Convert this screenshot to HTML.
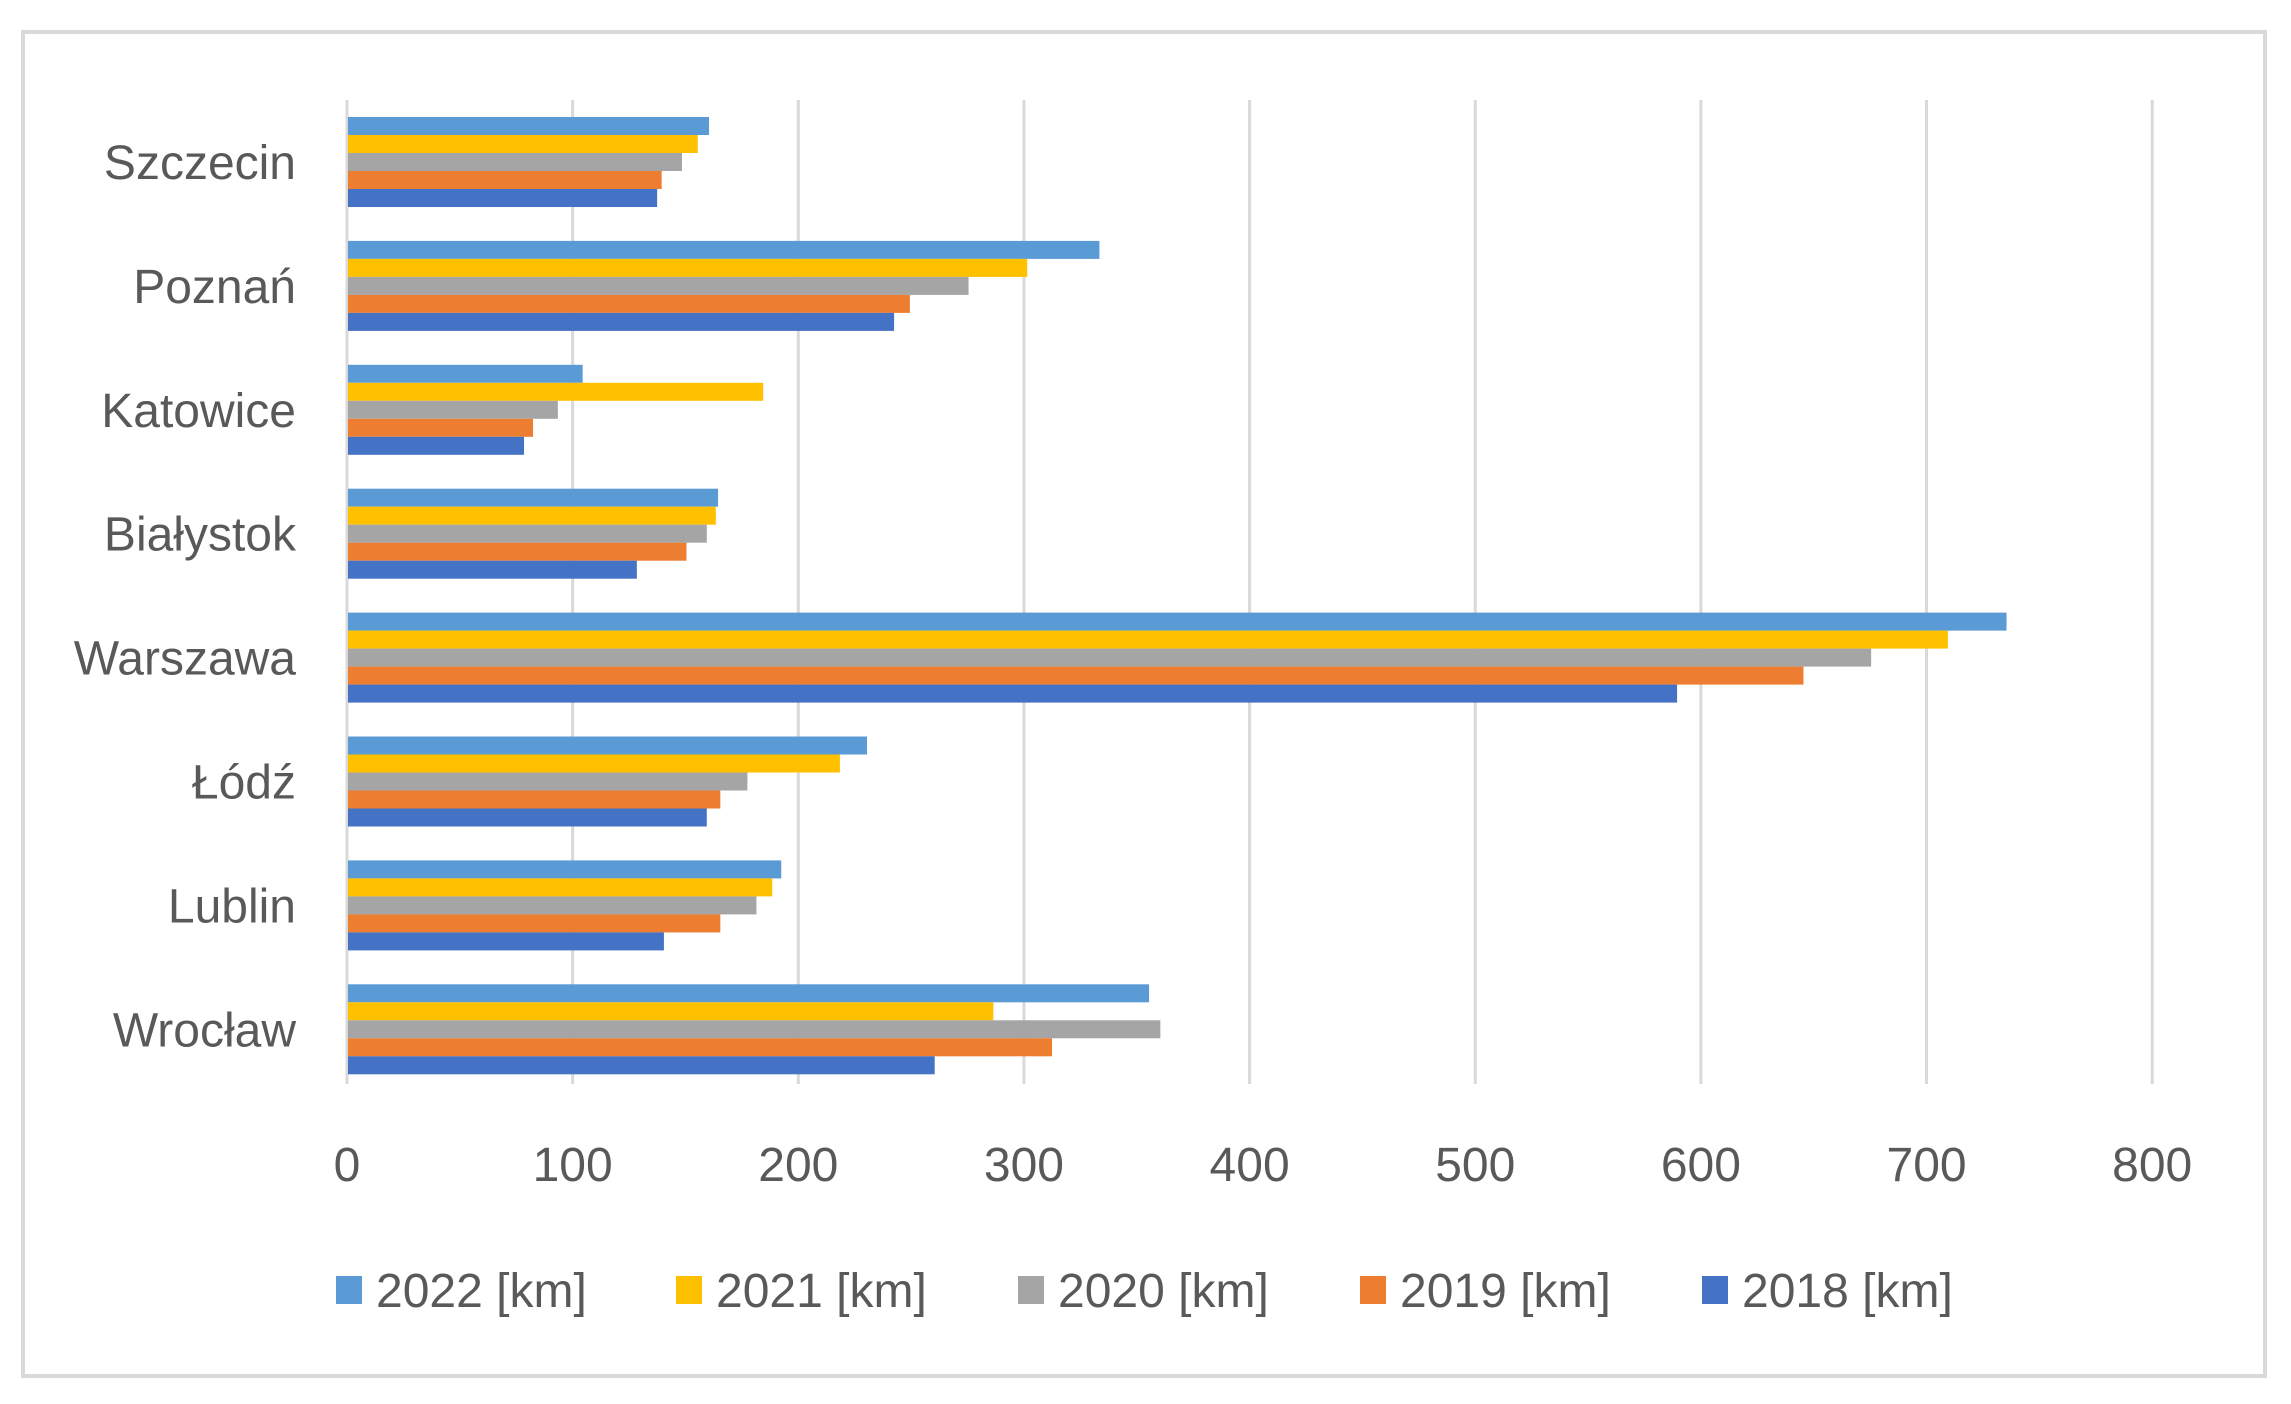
<!DOCTYPE html>
<html><head><meta charset="utf-8">
<style>
html,body{margin:0;padding:0;background:#fff;}
svg{display:block;}
text{font-family:"Liberation Sans",sans-serif;fill:#595959;}
</style></head>
<body>
<svg id="c" width="2291" height="1404" viewBox="0 0 2291 1404" xmlns="http://www.w3.org/2000/svg">
<rect x="0" y="0" width="2291" height="1404" fill="#fff"/>
<rect x="23" y="32" width="2242" height="1344" fill="#fff" stroke="#d9d9d9" stroke-width="4"/>
<g id="grid"></g>
<g id="bars"></g>
<g id="labels"></g>
</svg>
<script>
var NS="http://www.w3.org/2000/svg";
function el(p,t,a,txt){var e=document.createElementNS(NS,t);for(var k in a)e.setAttribute(k,a[k]);if(txt!==undefined)e.textContent=txt;p.appendChild(e);return e;}
var svg=document.getElementById('c');
var g=document.getElementById('grid'),b=document.getElementById('bars'),l=document.getElementById('labels');
var x0=347,step=2.2565;
for(var i=0;i<=8;i++){var x=x0+i*100*step;
 el(g,'line',{x1:x,y1:100,x2:x,y2:1084,stroke:'#d9d9d9','stroke-width':3});
 el(l,'text',{x:x,y:1181,'font-size':48,'text-anchor':'middle'},String(i*100));}
var cats=["Szczecin","Poznań","Katowice","Białystok","Warszawa","Łódź","Lublin","Wrocław"];
var data=[[160,155,148,139,137],[333,301,275,249,242],[104,184,93,82,78],[164,163,159,150,128],[735,709,675,645,589],[230,218,177,165,159],[192,188,181,165,140],[355,286,360,312,260]];
var cols=["#5b9bd5","#ffc000","#a5a5a5","#ed7d31","#4472c4"];
for(var c=0;c<8;c++){var cy=162+c*123.9;
 for(var s=0;s<5;s++){el(b,'rect',{x:x0+1,y:cy-45+s*18,width:data[c][s]*step,height:18,fill:cols[s]});}
 el(l,'text',{x:296,y:cy+17,'font-size':48,'text-anchor':'end'},cats[c]);}
var lg=["2022 [km]","2021 [km]","2020 [km]","2019 [km]","2018 [km]"];
var lx=[336,676,1018,1360,1702];
for(var s=0;s<5;s++){el(l,'rect',{x:lx[s],y:1276,width:26,height:28,fill:cols[s]});
 el(l,'text',{x:lx[s]+40,y:1307,'font-size':48},lg[s]);}
</script>
</body></html>
